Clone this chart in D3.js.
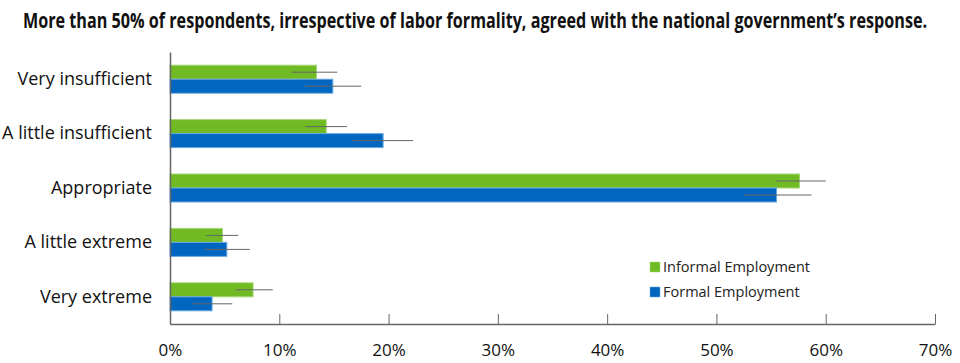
<!DOCTYPE html>
<html>
<head>
<meta charset="utf-8">
<script src="https://cdn.jsdelivr.net/npm/d3@7"></script>
<style>
  html, body { margin: 0; padding: 0; background: #fff; }
  svg { display: block; font-family: "Open Sans", "Noto Sans", sans-serif; }
</style>
</head>
<body>
<svg id="chart" width="960" height="363"></svg>
<script>
const categories = ["Very insufficient", "A little insufficient", "Appropriate", "A little extreme", "Very extreme"];
const seriesNames = ["Informal Employment", "Formal Employment"];
const informalValues = [13.4, 14.3, 57.6, 4.8, 7.6];
const informalLow = [11.1, 12.4, 55.4, 3.3, 6.0];
const informalHigh = [15.3, 16.2, 60.0, 6.25, 9.4];
const formalValues = [14.9, 19.5, 55.5, 5.2, 3.85];
const formalLow = [12.35, 16.7, 52.5, 3.1, 2.0];
const formalHigh = [17.5, 22.25, 58.7, 7.3, 5.7];
const xTicks = [0, 10, 20, 30, 40, 50, 60, 70];
const titleText = "More than 50% of respondents, irrespective of labor formality, agreed with the national government’s response.";

const colors = ["#70bb24", "#0066bf"];
const strokeColors = ["#a6d878", "#6aa8e4"];

const svg = d3.select("#chart");

const x = d3.scaleLinear().domain([0, 70]).range([170, 935]);
const y = d3.scaleBand().domain(categories).range([52, 324]).padding(0);
const bw = y.bandwidth();
const ySub = d3.scaleBand().domain(seriesNames).range([bw / 2 - 14, bw / 2 + 14]);

const data = [
  { name: seriesNames[0], values: informalValues, low: informalLow, high: informalHigh },
  { name: seriesNames[1], values: formalValues, low: formalLow, high: formalHigh }
];

// title (horizontally condensed to mimic a condensed bold face)
const titleG = svg.append("g");
const title = titleG.append("text")
  .attr("x", 0).attr("y", 0)
  .attr("text-anchor", "middle")
  .attr("font-size", 20.5)
  .attr("font-weight", 700)
  .attr("fill", "#111")
  .text(titleText);
const tl = title.node().getComputedTextLength();
const sx = Math.min(1, 905 / tl);
titleG.attr("transform", `translate(475,28) scale(${sx},1)`);

// bars
data.forEach((s, si) => {
  const g = svg.append("g");
  g.selectAll("rect").data(categories).join("rect")
    .attr("x", x(0))
    .attr("y", c => y(c) + ySub(s.name))
    .attr("width", (c, i) => x(s.values[i]) - x(0))
    .attr("height", ySub.bandwidth())
    .attr("fill", colors[si])
    .attr("stroke", strokeColors[si])
    .attr("stroke-width", 1);
});

// error bars
data.forEach((s, si) => {
  svg.append("g").selectAll("line").data(categories).join("line")
    .attr("x1", (c, i) => x(s.low[i]))
    .attr("x2", (c, i) => x(s.high[i]))
    .attr("y1", c => y(c) + ySub(s.name) + ySub.bandwidth() / 2)
    .attr("y2", c => y(c) + ySub(s.name) + ySub.bandwidth() / 2)
    .attr("stroke", "#666")
    .attr("stroke-width", 1);
});

// x axis
const xAxis = svg.append("g")
  .attr("transform", "translate(0,324)")
  .call(d3.axisBottom(x).tickValues(xTicks).tickFormat(d => d + "%").tickSizeInner(-10).tickSizeOuter(0).tickPadding(20));
xAxis.select(".domain").attr("stroke", "#666").attr("stroke-width", 1.5);
xAxis.selectAll(".tick line").attr("stroke", "#666");
xAxis.selectAll(".tick text").attr("font-size", 17).attr("fill", "#111").attr("font-family", "Open Sans");

// y axis
const yAxis = svg.append("g")
  .attr("transform", "translate(170,0)")
  .call(d3.axisLeft(y).tickSize(0).tickPadding(18));
yAxis.select(".domain").attr("stroke", "#666").attr("stroke-width", 1.5);
yAxis.selectAll(".tick text").attr("font-size", 18).attr("fill", "#111").attr("font-family", "Open Sans");

// legend
const legend = svg.append("g").attr("transform", "translate(650,262)");
seriesNames.forEach((n, i) => {
  const lg = legend.append("g").attr("transform", `translate(0,${i * 25})`);
  lg.append("rect").attr("x", 0).attr("y", 0).attr("width", 10).attr("height", 10)
    .attr("fill", colors[i]).attr("stroke", strokeColors[i]).attr("stroke-width", 0.5);
  lg.append("text").attr("x", 13).attr("y", 10).attr("font-size", 14.5).attr("fill", "#222").text(n);
});
</script>
</body>
</html>
